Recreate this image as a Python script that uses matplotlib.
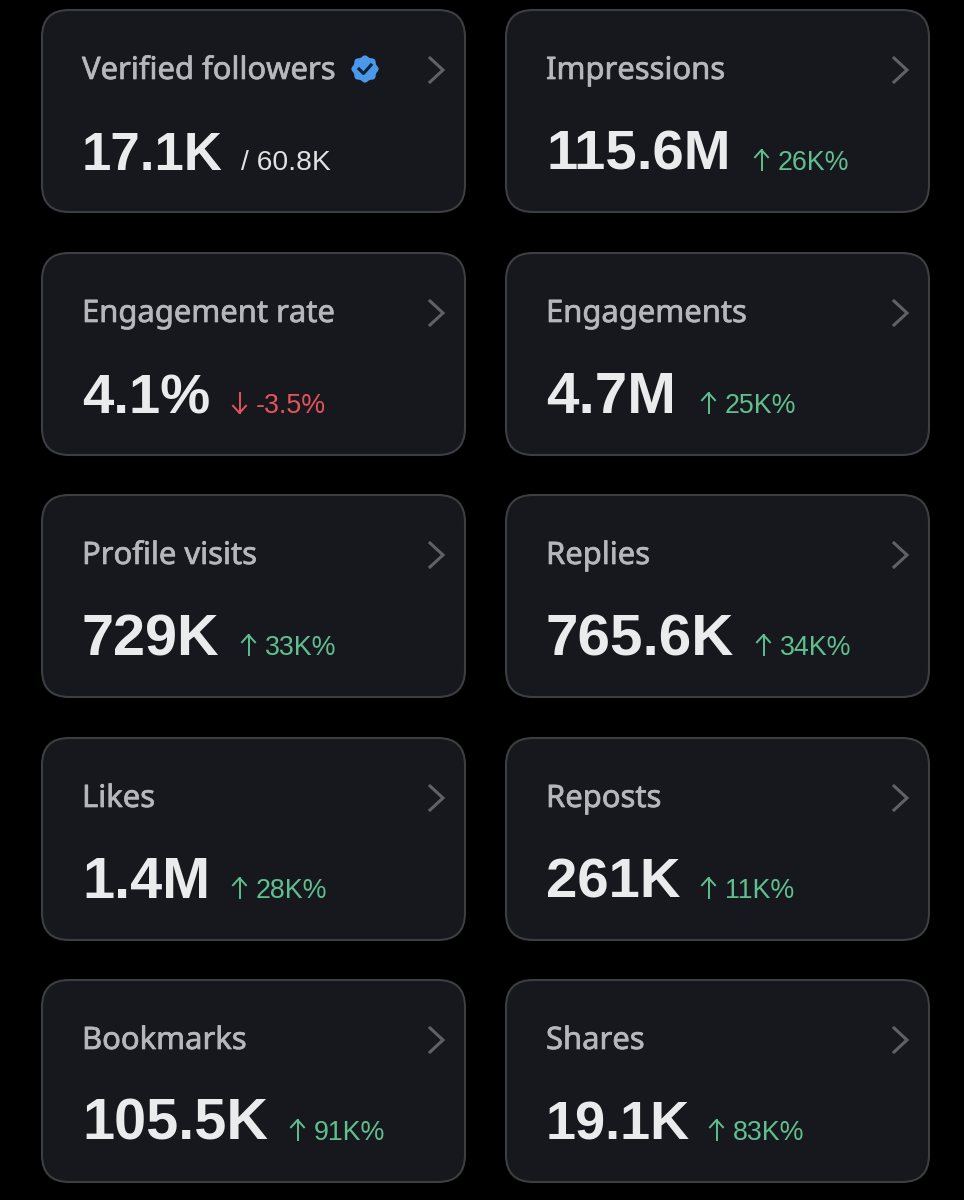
import numpy as np
import matplotlib
matplotlib.use("Agg")
import matplotlib.pyplot as plt
import matplotlib.patheffects as pe
from matplotlib.patches import FancyBboxPatch, Polygon

# Cards, row by row, left then right
titles = ["Verified followers", "Impressions", "Engagement rate", "Engagements",
          "Profile visits", "Replies", "Likes", "Reposts", "Bookmarks", "Shares"]
values = ["17.1K", "115.6M", "4.1%", "4.7M", "729K", "765.6K", "1.4M", "261K", "105.5K", "19.1K"]
deltas = ["/ 60.8K", "26K%", "-3.5%", "25K%", "33K%", "34K%", "28K%", "11K%", "91K%", "83K%"]
trends = ["none", "up", "down", "up", "up", "up", "up", "up", "up", "up"]

col_left = [42, 506]
row_top = [10, 253, 495, 738, 980]
delta_left = [241, 754, 232, 701, 241, 756, 232, 701, 290, 709]
# the original font has a narrow 1, so sizes are nudged to keep the widths
value_size = [38, 40.5, 40.5, 42, 41.5, 42, 41.5, 40.5, 41.5, 39]
card_w, card_h = 423, 202

bg = "#000000"
card_bg = "#17181d"
card_edge = "#3d3e41"
title_col = "#b5b7ba"
value_col = "#e9ebec"
plain_col = "#dfe1e2"
up_col = "#5fbf8f"
down_col = "#e5535c"
chevron_col = "#5f6164"
badge_col = "#4a98ea"

title_font = "Noto Sans"
num_font = "Liberation Sans"

fig = plt.figure(figsize=(9.64, 12), dpi=100, facecolor=bg)
ax = fig.add_axes([0, 0, 1, 1])
ax.set_xlim(0, 964)
ax.set_ylim(1200, 0)
ax.axis("off")

trend_cols = {"none": plain_col, "up": up_col, "down": down_col}

for i, title in enumerate(titles):
    x0 = col_left[i % 2]
    y0 = row_top[i // 2]

    ax.add_patch(FancyBboxPatch((x0, y0), card_w, card_h, boxstyle="round,pad=0,rounding_size=27",
                                fc=card_bg, ec=card_edge, lw=1.5))

    # Title and chevron
    t = ax.text(x0 + 40, y0 + 69, title, color=title_col, fontsize=22.3, family=title_font, va="baseline")
    t.set_path_effects([pe.withStroke(linewidth=0.5, foreground=title_col)])
    ax.plot([x0 + 388, x0 + 401, x0 + 388], [y0 + 48, y0 + 60, y0 + 72], color=chevron_col, lw=2.2,
            solid_joinstyle="miter")

    # Main number
    ax.text(x0 + 40, y0 + 160, values[i], color=value_col, fontsize=value_size[i], family=num_font,
            fontweight="bold", va="baseline")

    # Delta with its arrow
    col = trend_cols[trends[i]]
    dx = delta_left[i]
    if trends[i] == "none":
        ax.text(dx, y0 + 160, deltas[i], color=col, fontsize=20.3, family=num_font, va="baseline")
    else:
        tip, tail = y0 + 140, y0 + 160
        if trends[i] == "down":
            tip, tail = tail, tip
        wing = tip + (tail - tip) * 0.36
        ax.plot([dx + 7.5, dx + 7.5], [tip, tail], color=col, lw=1.4)
        ax.plot([dx + 1, dx + 7.5, dx + 14], [wing, tip, wing], color=col, lw=1.4)
        ax.text(dx + 24, y0 + 160, deltas[i], color=col, fontsize=19.3, family=num_font, va="baseline")

# Verified badge next to the first title
theta = np.linspace(0, 2 * np.pi, 200)
r = 12.8 + 0.8 * np.cos(8 * theta)
ax.add_patch(Polygon(np.c_[365 + r * np.cos(theta), 69 + r * np.sin(theta)], fc=badge_col, ec="none"))
ax.plot([359, 363.5, 371], [69, 73.5, 65], color="#14202e", lw=2.2)

fig.savefig("out.png", dpi=100, facecolor=bg)
